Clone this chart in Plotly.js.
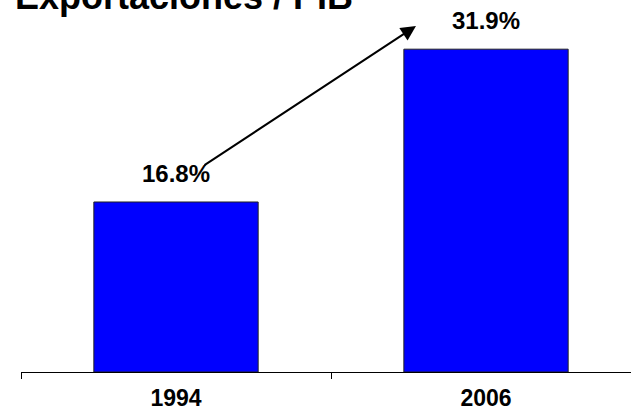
<!DOCTYPE html>
<html>
<head>
<meta charset="utf-8">
<script src="https://cdn.plot.ly/plotly-3.0.1.min.js"></script>
<style>html,body{margin:0;padding:0;background:#fff;overflow:hidden;}#chart{width:631px;height:410px;}</style>
</head>
<body>
<div id="chart"></div>
<script>
var categories = ['1994', '2006'];
var values = [16.8, 31.9];
var chartTitle = 'Exportaciones / PIB';

var FONT = 'Liberation Sans, Arial, sans-serif';

var trace = {
  type: 'bar',
  x: categories,
  y: values,
  width: 0.53,
  marker: {color: '#0000FF', line: {color: '#222222', width: 1}},
  hoverinfo: 'none'
};

var annotations = categories.map(function (c, i) {
  return {
    xref: 'x', yref: 'y', x: i, y: values[i],
    text: '<b>' + values[i].toFixed(1) + '%</b>',
    showarrow: false, xanchor: 'center', yanchor: 'bottom', yshift: 13,
    font: {family: FONT, size: 24, color: '#000000'}
  };
});

annotations.push({
  xref: 'paper', yref: 'paper', x: -0.013, y: 0.949,
  xanchor: 'left', yanchor: 'bottom', showarrow: false,
  text: '<b>' + chartTitle + '</b>',
  font: {family: FONT, size: 36, color: '#000000'}
});

annotations.push({
  xref: 'paper', yref: 'paper', x: 0.6475, y: 0.930,
  axref: 'pixel', ayref: 'pixel', ax: -213, ay: 140,
  showarrow: true, arrowhead: 2, arrowsize: 1.5, arrowwidth: 2,
  arrowcolor: '#000000', text: '', standoff: 0
});

var layout = {
  width: 631, height: 410,
  margin: {l: 21, r: 0, t: 0, b: 38},
  paper_bgcolor: '#ffffff', plot_bgcolor: '#ffffff',
  showlegend: false,
  xaxis: {
    type: 'category', range: [-0.5, 1.4677],
    showline: true, linecolor: '#000000', linewidth: 1,
    ticks: 'outside', tickson: 'boundaries', ticklen: 6, tickcolor: '#000000', tickwidth: 1,
    ticklabelstandoff: 5,
    showgrid: false, zeroline: false,
    tickfont: {family: FONT, size: 23, color: '#000000', weight: 'bold'}
  },
  yaxis: {
    range: [0, 36.76], visible: false, showgrid: false, zeroline: false, fixedrange: true
  },
  annotations: annotations
};

Plotly.newPlot('chart', [trace], layout, {staticPlot: true, displayModeBar: false});
</script>
</body>
</html>
